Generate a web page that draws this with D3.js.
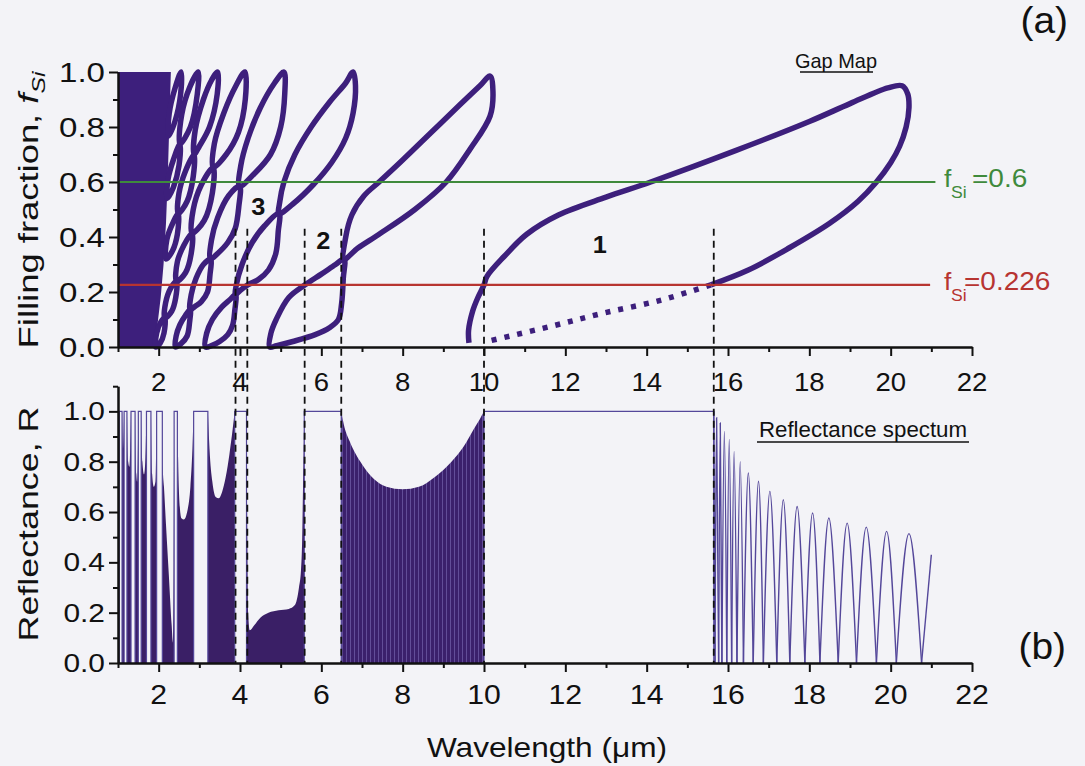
<!DOCTYPE html>
<html><head><meta charset="utf-8">
<script src="https://cdn.jsdelivr.net/npm/d3@7"></script>
<style>
body{margin:0;background:#f3f3f7;}
text{font-family:"Liberation Sans",Arial,Helvetica,sans-serif;fill:#111;}
</style></head>
<body><svg id="c" width="1085" height="766"></svg>
<script>
// ---------------- DATA ----------------
const xMajorTicks = [2,4,6,8,10,12,14,16,18,20,22];
const xMinorTicks = [1,3,5,7,9,11,13,15,17,19,21];
const fMajorTicks = [0,0.2,0.4,0.6,0.8,1.0];
const fMinorTicks = [0.1,0.3,0.5,0.7,0.9];
const rMajorTicks = [0,0.2,0.4,0.6,0.8,1.0];
const rMinorTicks = [0.1,0.3,0.5,0.7,0.9,1.1];

// Gap map: band 1 (wavelength um, filling fraction)
const band1Solid = [[9.63,0.015],[9.62,0.06],[9.72,0.13],[9.85,0.18],[10.0,0.226],[10.07,0.256],[10.5,0.33],[11.05,0.41],[11.83,0.48],[13.0,0.545],[14.1,0.6],[16.2,0.715],[18.0,0.82],[19.0,0.885],[19.93,0.942],[20.28,0.95],[20.42,0.92],[20.45,0.87],[20.38,0.8],[20.22,0.73],[20.0,0.67],[19.65,0.6],[19.2,0.53],[18.5,0.45],[17.5,0.36],[16.5,0.28],[15.58,0.226]];
const band1Dotted = [[15.58,0.226],[14.37,0.171],[12.93,0.123],[11.61,0.074],[10.07,0.02]];
const band2Lenses = [
 [[4.73,0.0],[4.76,0.05],[4.89,0.1],[5.2,0.18],[5.6,0.226],[6.0,0.265],[6.35,0.3],[6.56,0.32],[6.54,0.25],[6.5,0.16],[6.42,0.1],[6.2,0.07],[5.85,0.045],[5.3,0.02],[4.9,0.005]],
 [[6.56,0.32],[6.6,0.4],[6.75,0.48],[7.05,0.55],[7.42,0.6],[8.0,0.68],[8.7,0.78],[9.4,0.88],[9.9,0.95],[10.15,0.985],[10.22,0.93],[10.15,0.84],[9.66,0.72],[9.07,0.6],[8.3,0.5],[7.42,0.41],[6.9,0.36]]
];
const band3Lenses = [
 [[3.15,0.0],[3.18,0.05],[3.32,0.1],[3.55,0.145],[3.75,0.172],[3.89,0.19],[3.87,0.13],[3.82,0.08],[3.7,0.045],[3.5,0.02],[3.3,0.005]],
 [[3.89,0.19],[3.91,0.226],[4.05,0.3],[4.3,0.38],[4.6,0.44],[4.96,0.485],[4.94,0.42],[4.88,0.34],[4.7,0.28],[4.45,0.245],[4.19,0.226],[4.0,0.205]],
 [[4.96,0.485],[4.98,0.53],[5.08,0.6],[5.35,0.7],[5.75,0.8],[6.2,0.89],[6.6,0.96],[6.78,1.0],[6.84,0.95],[6.78,0.85],[6.6,0.76],[6.25,0.67],[5.8,0.59],[5.3,0.52]]
];
const band4Lenses = [
 [[2.41,0.0],[2.43,0.04],[2.52,0.08],[2.66,0.115],[2.775,0.136],[2.76,0.09],[2.7,0.04],[2.55,0.012]],
 [[2.775,0.136],[2.8,0.19],[2.92,0.25],[3.1,0.3],[3.275,0.32],[3.26,0.26],[3.2,0.2],[3.05,0.165],[2.9,0.148]],
 [[3.275,0.32],[3.3,0.39],[3.45,0.47],[3.72,0.55],[3.99,0.585],[3.97,0.51],[3.88,0.43],[3.7,0.38],[3.45,0.34]],
 [[3.99,0.585],[4.02,0.66],[4.2,0.76],[4.5,0.87],[4.85,0.96],[5.08,1.0],[5.1,0.92],[5.0,0.8],[4.75,0.7],[4.35,0.63]]
];
const band5Lenses = [
 [[1.93,0],[1.95,0.05],[2.05,0.09],[2.15,0.105],[2.13,0.05],[2.04,0.015]],
 [[2.15,0.105],[2.17,0.16],[2.3,0.215],[2.44,0.239],[2.42,0.18],[2.32,0.13]],
 [[2.44,0.239],[2.46,0.31],[2.62,0.37],[2.82,0.414],[2.8,0.34],[2.66,0.27]],
 [[2.82,0.414],[2.85,0.5],[3.05,0.59],[3.34,0.653],[3.32,0.56],[3.12,0.46]],
 [[3.34,0.653],[3.37,0.74],[3.6,0.85],[3.9,0.95],[4.12,1.0],[4.13,0.9],[3.96,0.78],[3.66,0.7]]
];
const highBandLenses = [
 [[2.18,0.32],[2.2,0.39],[2.33,0.445],[2.48,0.485],[2.46,0.41],[2.34,0.35]],
 [[2.48,0.485],[2.5,0.56],[2.66,0.64],[2.87,0.70],[2.85,0.62],[2.7,0.53]],
 [[2.87,0.70],[2.9,0.79],[3.1,0.9],[3.3,0.97],[3.45,1.0],[3.44,0.92],[3.25,0.8],[3.0,0.73]],
 [[2.21,0.54],[2.23,0.61],[2.36,0.68],[2.52,0.738],[2.5,0.66],[2.36,0.58]],
 [[2.52,0.738],[2.54,0.82],[2.7,0.92],[2.97,1.0],[2.95,0.92],[2.78,0.8]],
 [[2.24,0.767],[2.26,0.85],[2.4,0.94],[2.55,1.0],[2.54,0.92],[2.4,0.82]]
];
const denseGapRegion = [[1,0],[1.88,0],[1.97,0.08],[2.05,0.18],[2.12,0.3],[2.18,0.45],[2.22,0.6],[2.25,0.75],[2.28,0.9],[2.3,1.0],[1,1]];

// Reference lines and band-edge markers
const fLines = [0.6, 0.226];
const fLineEnd = [21.1, 20.97];
const bandEdges = [3.89, 4.18, 5.59, 6.49, 10.0, 15.65];
const bandEdgeTopF = 0.43;

// Reflectance spectrum
const stopBands = [[1.03,1.10],[1.15,1.22],[1.32,1.42],[1.50,1.57],[1.70,1.81],[1.95,2.09],[2.38,2.46],[2.86,3.21],[3.87,4.16],[5.58,6.49],[10.0,15.65]];
const reflDense = [
 [[1.0,0.98],[1.03,1.0]],
 [[1.10,1.0],[1.125,0.85],[1.15,1.0]],
 [[1.22,1.0],[1.25,0.8],[1.28,0.78],[1.3,0.85],[1.32,1.0]],
 [[1.42,1.0],[1.45,0.75],[1.47,0.72],[1.5,1.0]],
 [[1.57,1.0],[1.6,0.8],[1.64,0.75],[1.67,0.8],[1.7,1.0]],
 [[1.81,1.0],[1.84,0.75],[1.88,0.7],[1.92,0.72],[1.95,1.0]],
 [[2.09,1.0],[2.1,0.78],[2.13,0.7],[2.18,0.55],[2.25,0.35],[2.32,0.15],[2.35,0.08],[2.37,0.4],[2.38,1.0]],
 [[2.46,1.0],[2.48,0.8],[2.52,0.62],[2.56,0.575],[2.62,0.57],[2.7,0.6],[2.78,0.7],[2.83,0.85],[2.86,1.0]],
 [[3.21,1.0],[3.25,0.85],[3.32,0.72],[3.4,0.66],[3.48,0.655],[3.56,0.68],[3.65,0.74],[3.74,0.83],[3.82,0.93],[3.87,1.0]],
 [[4.16,1.0],[4.18,0.5],[4.2,0.2],[4.24,0.13],[4.35,0.15],[4.5,0.18],[4.7,0.2],[4.95,0.21],[5.2,0.215],[5.35,0.23],[5.45,0.3],[5.5,0.37],[5.53,0.5],[5.55,0.7],[5.57,0.88],[5.58,1.0]]
];
const reflStriped = [[6.49,1.0],[6.55,0.95],[6.7,0.88],[7.0,0.79],[7.3,0.73],[7.6,0.7],[8.0,0.69],[8.4,0.7],[8.8,0.74],[9.2,0.8],[9.5,0.86],[9.75,0.93],[9.9,0.97],[10.0,1.0]];
const tailTroughWl = [15.68,15.77,15.85,15.97,16.09,16.22,16.38,16.62,16.87,17.2,17.52,17.89,18.26,18.71,19.16,19.65,20.14,20.76];
const tailPeakWl = [15.72,15.81,15.91,16.03,16.15,16.3,16.5,16.75,17.03,17.36,17.7,18.08,18.48,18.93,19.4,19.9,20.45];
const tailPeakR = [0.975,0.954,0.92,0.888,0.841,0.80,0.755,0.722,0.682,0.649,0.622,0.596,0.576,0.556,0.54,0.523,0.514];
const tailEnd = [[20.76,0],[21.0,0.43]];

// ---------------- DRAW ----------------
const svg = d3.select('#c');
svg.append('rect').attr('width',1085).attr('height',766).attr('fill','#f3f3f7');
const x = d3.scaleLinear().domain([1,22]).range([118,972]);
const yT = d3.scaleLinear().domain([0,1]).range([347,72]);
const yB = d3.scaleLinear().domain([0,1.1]).range([663,386.2]);
const GAP = '#3d1f7c', REF = '#3a1f66', LINE='#54479a';

function txt(g, xx, yy, s, size, anchor, sx, extra){
  const t = g.append('text').attr('transform',`translate(${xx},${yy}) ${extra||''} scale(${sx},1)`)
    .attr('text-anchor',anchor).attr('font-size',size);
  if (s!==null) t.text(s);
  return t;
}

const defs = svg.append('defs');
const pat = defs.append('pattern').attr('id','stripes').attr('patternUnits','userSpaceOnUse').attr('width',4).attr('height',10);
pat.append('rect').attr('width',4).attr('height',10).attr('fill','#3b206c');
pat.append('rect').attr('x',2).attr('width',1).attr('height',10).attr('fill','#6e5ca6').attr('opacity',0.75);

// --- top panel ---
const gT = svg.append('g');
const lineT = d3.line().x(d=>x(d[0])).y(d=>yT(d[1]));
gT.append('path').datum(denseGapRegion).attr('d', lineT.curve(d3.curveLinearClosed)).attr('fill',GAP);
const closed = d3.line().x(d=>x(d[0])).y(d=>yT(d[1])).curve(d3.curveCatmullRomClosed.alpha(0.5));
const allLenses = [].concat(highBandLenses, band5Lenses, band4Lenses, band3Lenses, band2Lenses);
gT.selectAll('path.lens').data(allLenses).join('path').attr('class','lens')
  .attr('d', closed).attr('fill','none').attr('stroke',GAP).attr('stroke-width',5.5).attr('stroke-linejoin','round');
const open = d3.line().x(d=>x(d[0])).y(d=>yT(d[1])).curve(d3.curveCatmullRom.alpha(0.5));
gT.append('path').datum(band1Solid).attr('d',open).attr('fill','none').attr('stroke',GAP).attr('stroke-width',5.5);
gT.append('path').datum(band1Dotted).attr('d',open).attr('fill','none').attr('stroke',GAP).attr('stroke-width',5.5).attr('stroke-dasharray','5,8');

const fColors = ['#3f8a3c','#b73431'];
fLines.forEach((f,i)=>{
  gT.append('line').attr('x1',x(1)).attr('x2',x(fLineEnd[i])).attr('y1',yT(f)).attr('y2',yT(f))
   .attr('stroke',fColors[i]).attr('stroke-width',2.2);
});

// --- bottom panel ---
const gB = svg.append('g');
const area = d3.area().x(d=>x(d[0])).y0(yB(0)).y1(d=>yB(d[1])).curve(d3.curveMonotoneX);
gB.selectAll('path.dense').data(reflDense).join('path').attr('class','dense').attr('d',area).attr('fill',REF);
gB.append('path').datum(reflStriped).attr('d',area).attr('fill','url(#stripes)');
gB.selectAll('path.sb').data(stopBands).join('path').attr('class','sb')
 .attr('d',d=>d3.line()([[x(d[0]),yB(0)],[x(d[0]),yB(1)],[x(d[1]),yB(1)],[x(d[1]),yB(0)]]))
 .attr('fill','none').attr('stroke',LINE).attr('stroke-width',1.2);
const arch = d3.line().x(d=>x(d[0])).y(d=>yB(d[1])).curve(d3.curveNatural);
const arches = tailPeakWl.map((p,i)=>[[tailTroughWl[i],0],[p,tailPeakR[i]],[tailTroughWl[i+1],0]]);
gB.selectAll('path.arch').data(arches).join('path').attr('class','arch').attr('d',arch)
  .attr('fill','none').attr('stroke',LINE).attr('stroke-width',1.4);
const straight = d3.line().x(d=>x(d[0])).y(d=>yB(d[1]));
gB.append('path').datum([[15.65,1.0],[tailTroughWl[0],0]]).attr('d',straight)
  .attr('fill','none').attr('stroke',LINE).attr('stroke-width',1.4);
gB.append('path').datum(tailEnd).attr('d',straight).attr('fill','none').attr('stroke',LINE).attr('stroke-width',1.4);

svg.selectAll('line.edge').data(bandEdges).join('line').attr('class','edge')
 .attr('x1',d=>x(d)).attr('x2',d=>x(d)).attr('y1',yT(bandEdgeTopF)).attr('y2',yB(0))
 .attr('stroke','#111').attr('stroke-width',1.8).attr('stroke-dasharray','7,5');

// --- axes ---
function styleAxis(g){ g.selectAll('path,line').attr('stroke','#111').attr('stroke-width',2); g.selectAll('text').remove(); }
[[347,9],[347,5],[663,9],[663,5]].forEach(([yy,ts],i)=>{
  svg.append('g').attr('transform',`translate(0,${yy})`)
   .call(d3.axisBottom(x).tickValues(i%2?xMinorTicks:xMajorTicks).tickSize(ts).tickSizeOuter(0)).call(styleAxis);
});
svg.append('g').attr('transform','translate(118,0)').call(d3.axisLeft(yT).tickValues(fMajorTicks).tickSize(9).tickSizeOuter(0)).call(styleAxis);
svg.append('g').attr('transform','translate(118,0)').call(d3.axisLeft(yT).tickValues(fMinorTicks).tickSize(5).tickSizeOuter(0)).call(styleAxis);
svg.append('g').attr('transform','translate(118,0)').call(d3.axisLeft(yB).tickValues(rMajorTicks).tickSize(9).tickSizeOuter(0)).call(styleAxis);
svg.append('g').attr('transform','translate(118,0)').call(d3.axisLeft(yB).tickValues(rMinorTicks).tickSize(5).tickSizeOuter(0)).call(styleAxis);

const fmt1 = d3.format('.1f');
xMajorTicks.forEach(v=>{ txt(svg, x(v), 391, String(v), 25, 'middle', 1.1); });
xMajorTicks.forEach(v=>{ txt(svg, x(v), 704, String(v), 27, 'middle', 1.12); });
fMajorTicks.forEach(v=>{ txt(svg, 105, yT(v)+10, fmt1(v), 28, 'end', 1.18); });
rMajorTicks.forEach(v=>{ txt(svg, 105, yB(v)+9, fmt1(v), 26, 'end', 1.15); });

// axis titles
const t1 = txt(svg, 38, 210, null, 28, 'middle', 1.3, 'rotate(-90)');
t1.append('tspan').text('Filling fraction, ');
t1.append('tspan').attr('font-style','italic').text('f');
t1.append('tspan').attr('font-style','italic').attr('font-size',19).attr('dy',7).text('Si');
txt(svg, 38, 524, 'Reflectance, R', 28, 'middle', 1.28, 'rotate(-90)');
txt(svg, 547, 757, 'Wavelength (\u03bcm)', 28, 'middle', 1.13);

// annotations
const ann = [['1',12.85,0.37],['2',6.05,0.385],['3',4.45,0.51]];
ann.forEach(a=>{ txt(svg, x(a[1]), yT(a[2])+8, a[0], 23, 'middle', 1.1).attr('font-weight','bold'); });

// legend labels for reference lines
const legTxt = ['=0.6','=0.226'];
const legDx = [972,964];
fLines.forEach((f,i)=>{
  const yy = yT(f)+5;
  txt(svg, 944, yy, 'f', 24, 'start', 1.1).style('fill',fColors[i]);
  txt(svg, 951, yy+11, 'Si', 16, 'start', 1.1).style('fill',fColors[i]);
  txt(svg, legDx[i], yy, legTxt[i], 25, 'start', 1.12).style('fill',fColors[i]);
});

// panel titles
txt(svg, 836, 68, 'Gap Map', 21, 'middle', 0.95);
svg.append('line').attr('x1',800).attr('x2',873).attr('y1',72).attr('y2',72).attr('stroke','#111').attr('stroke-width',1.5);
txt(svg, 863, 437, 'Reflectance spectum', 23, 'middle', 0.97);
svg.append('line').attr('x1',757).attr('x2',969).attr('y1',442).attr('y2',442).attr('stroke','#111').attr('stroke-width',1.5);
txt(svg, 1068, 33, '(a)', 37, 'end', 1.05);
txt(svg, 1066, 659, '(b)', 37, 'end', 1.05);
</script></body></html>
